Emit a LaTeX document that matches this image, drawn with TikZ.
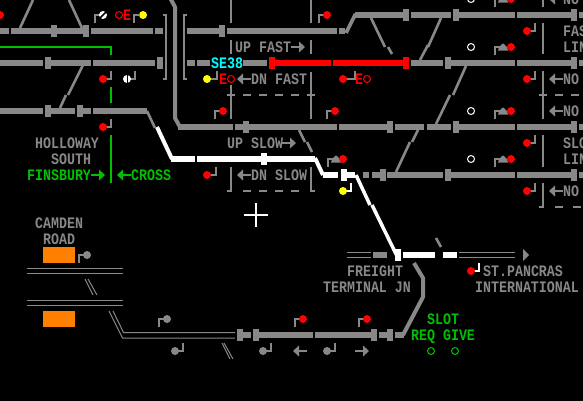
\documentclass[tikz,border=0pt]{standalone}
\usepackage{fontspec}
\newfontfamily\pxf[FakeStretch=0.83]{Liberation Mono}[BoldFont={Liberation Mono Bold}]
\definecolor{tg}{HTML}{888888}
\definecolor{tgreen}{HTML}{00C000}
\definecolor{tor}{HTML}{FF8000}
\definecolor{tcy}{HTML}{00FFFF}
\definecolor{tred}{HTML}{FF0000}
\definecolor{tyel}{HTML}{FFFF00}
\newcommand{\Seg}[3][tg]{\foreach \a/\b in {#3}{\fill[#1] (\a,#2-3) rectangle (\b,#2+3);}}
\newcommand{\Blk}[3][tg]{\fill[#1] (#2,#3-6) rectangle (#2+6,#3+6);}
\newcommand{\Disc}[3][tred]{\fill[#1] (#2,#3) circle[radius=4];}
\newcommand{\ArR}[3][tg]{\fill[#1] (#2,#3-1) rectangle (#2+9,#3+1);\fill[#1] (#2+8,#3-5.5)--(#2+14,#3)--(#2+8,#3+5.5)--cycle;}
\newcommand{\ArL}[3][tg]{\fill[#1] (#2+5,#3-1) rectangle (#2+14,#3+1);\fill[#1] (#2+6,#3-5.5)--(#2,#3)--(#2+6,#3+5.5)--cycle;}
\newcommand{\Shunt}[2]{\fill[tg] (#1-1,#2+8) rectangle (#1+1,#2-1);\fill[tg] (#1-1,#2-1) rectangle (#1+5,#2+1);\fill[tg] (#1+3,#2+3.7)--(#1+4,#2)--(#1+8,#2-3.7)--(#1+12,#2)--(#1+13,#2+3.7)--cycle;}
\begin{document}
\begin{tikzpicture}[x=1pt,y=-1pt,
  thinl/.style={line width=2pt,line cap=butt,line join=miter},
  dia/.style={line width=2.6pt,tg},
  dbl/.style={line width=1pt,tg},
  tx/.style={anchor=base west,inner sep=0pt,font=\pxf\fontsize{16}{16}\selectfont\bfseries,text=tg},
  txg/.style={tx,text=tgreen}]
\clip (0,0) rectangle (583,401);
\fill[black] (0,0) rectangle (583,401);
% gray tracks
\Seg{31}{0/9,11/83,91/153,155/163,187/219,227/337,339/345}
\Seg{15}{355/403,411/451,459/515,517/573,579/583}
\Seg{63}{0/43,51/91,93/155,187/195,197/210,243/267}
\Seg{63}{411/443,451/515,517/573,579/583}
\Seg{111}{0/43,51/75,83/91,93/147}
\Seg{127}{178/233,235/243,249/337,339/387,395/424,427/451,459/515,517/573,579/583}
\Seg{175}{363/369,372/380,387/443,451/515,517/573,579/583}
\Seg{335}{243/251,259/313,315/371,379/387,395/404}
\fill[tg] (373,252) rectangle (387,258);
\foreach \x/\y in {51/31,83/31,219/31,403/15,453/15,571/15,45/63,445/63,571/63,45/111,77/111,243/127,387/127,453/127,571/127,380/175,445/175,571/175,237/335,253/335,371/335,387/335}{\Blk{\x}{\y}}
\fill[tg] (157,57) rectangle (163,69);
% red
\Seg[tred]{63}{275/331,333/403}
\Blk[tred]{269}{63}\Blk[tred]{403}{63}
% white
\fill[white] (261,153) rectangle (267,165);
\fill[white] (341,169) rectangle (347,181);
\fill[white] (395,249) rectangle (401,261);
\Seg[white]{159}{171/195,197/261,267/315}
\Seg[white]{175}{323/338,347/355}
\Seg[white]{255}{403/435,443/457}
\draw[white,line width=4pt] (157,127)--(172,159);
\draw[white,line width=4pt] (315,158)--(323,175);
\draw[white,line width=3.5pt] (356,175)--(370,205) (372,205)--(397,256);
% diagonals
\draw[dia] (33,0)--(20,28) (69,0)--(82,28);
\draw[dia] (83,65)--(68,95) (66,95)--(60,108);
\draw[dia] (147,111)--(155,128);
\draw[dia] (371,18)--(385,47) (388,47)--(392,54);
\draw[dia] (441,18)--(428,47) (428,45)--(420,60);
\draw[dia] (466,66)--(453,95) (450,95)--(436,124);
\draw[dia] (418,130)--(412,142) (410,142)--(396,172);
\draw[dia] (299,130)--(305,142) (307,142)--(312,152);
\draw[dia] (436,238)--(441,247);
\draw[line width=3.6pt,tg] (346,33)--(355.5,14);
\draw[line width=4pt,tg,line join=round] (403,335)--(423,297)--(423,278)--(414,263);
\draw[line width=4pt,tg,line join=round] (170.7,-1)--(175,7)--(175,118)--(180,127)--(185,127);
% brackets
\draw[thinl,tg] (163,15)--(166,15)--(166,79)--(163,79);
\draw[thinl,tg] (187,15)--(184,15)--(184,79)--(187,79);
% double lines
\draw[dbl] (347,252)--(371,252) (347,257)--(371,257) (459,252)--(515,252) (459,257)--(515,257);
\draw[dbl] (27,268.5)--(123,268.5) (27,273.5)--(123,273.5) (27,300.5)--(123,300.5) (27,305.5)--(123,305.5);
\draw[dbl] (85,279)--(93,295) (88,279)--(97,295) (222,343)--(230,359) (224,343)--(233,359);
\draw[dbl] (109,311)--(122.5,338)--(235,338) (113,311)--(123.5,332.5)--(235,332.5);
\fill[tg] (523,249)--(529,255)--(523,261)--cycle;
% green lines
\draw[thinl,tgreen] (0,47)--(111,47)--(111,55) (111,87)--(111,103) (111,135)--(111,183);
% vertical rules
\draw[thinl,tg] (231,0)--(231,23) (231,40)--(231,54) (231,85)--(231,119);
\draw[thinl,tg] (311,0)--(311,23) (311,40)--(311,54) (311,72)--(311,119);
\draw[thinl,tg] (227,95)--(235,95) (243,95)--(251,95) (259,95)--(267,95) (275,95)--(283,95) (291,95)--(299,95) (307,95)--(315,95);
\draw[thinl,tg] (227,191)--(231,191)--(231,167) (311,167)--(311,191)--(315,191);
\draw[thinl,tg] (243,191)--(251,191) (259,191)--(267,191) (275,191)--(283,191) (291,191)--(299,191);
\draw[thinl,tg] (543,0)--(543,7) (543,23)--(543,54) (543,71)--(543,119) (539,95)--(547,95) (555,95)--(563,95) (571,95)--(579,95);
\draw[thinl,tg] (543,135)--(543,167) (539,207)--(543,207)--(543,183) (555,207)--(563,207) (573,207)--(581,207);
% signals
\Disc{0}{15}
\fill[tyel] (143,15) circle[radius=4];
\draw[thinl,tg] (95,23)--(95,15)--(100,15);
\draw[thinl,tg] (134,23)--(134,15)--(140,15);
\fill[white] (103,15) circle[radius=4];
\draw[black,line width=1.5pt] (100,18)--(106,12);
\draw[thinl,tg] (111,71)--(111,79)--(106,79); \Disc{103}{79}
\draw[thinl,tg] (135,71)--(135,79)--(130,79);
\fill[white] (127,79) circle[radius=4];
\draw[black,line width=1pt] (127,74)--(127,84);
\draw[thinl,tg] (111,119)--(111,127)--(106,127); \Disc{103}{127}
\draw[thinl,tg] (319,23)--(319,15)--(325,15); \Disc{327}{15}
\draw[thinl,tg] (215,119)--(215,111)--(221,111); \Disc{223}{111}
\draw[thinl,tg] (327,119)--(327,111)--(333,111); \Disc{335}{111}
\draw[thinl,tg] (217,71)--(217,79)--(210,79); \fill[tyel] (207,79) circle[radius=4];
\draw[thinl,tg] (355,71)--(355,79)--(346,79); \Disc{343}{79}
\draw[thinl,tg] (216,167)--(216,175)--(210,175); \Disc{207}{175}
\draw[thinl,white] (351,183)--(351,191)--(346,191); \fill[tyel] (343,191) circle[radius=4];
\draw[thinl,tg] (535,23)--(535,31)--(530,31); \Disc{527}{31}
\draw[thinl,tg] (535,71)--(535,79)--(530,79); \Disc{527}{79}
\draw[thinl,tg] (535,135)--(535,143)--(530,143); \Disc{527}{143}
\draw[thinl,tg] (535,183)--(535,191)--(530,191); \Disc{527}{191}
\Shunt{495}{47}\Disc{511}{47}
\Shunt{495}{111}\Disc{511}{111}
\Shunt{495}{159}\Disc{511}{159}
\Shunt{495}{-1}\Disc{511}{-1}
\Shunt{328}{159}\Disc{343}{159}
\foreach \y in {47,111,159,-1}{\draw[white,line width=1pt] (471,\y) circle[radius=3.5];}
\draw[thinl,tg] (79,263)--(79,255)--(85,255); \fill[tg] (87,255) circle[radius=4];
\draw[thinl,tg] (159,327)--(159,319)--(165,319); \fill[tg] (167,319) circle[radius=4];
\draw[thinl,tg] (183,343)--(183,351)--(177,351); \fill[tg] (175,351) circle[radius=4];
\draw[thinl,tg] (295,327)--(295,319)--(301,319); \Disc{303}{319}
\draw[thinl,tg] (359,327)--(359,319)--(365,319); \Disc{367}{319}
\draw[thinl,tg] (271,343)--(271,351)--(265,351); \fill[tg] (263,351) circle[radius=4];
\draw[thinl,tg] (335,343)--(335,351)--(329,351); \fill[tg] (327,351) circle[radius=4];
\draw[thinl,white] (479,263)--(479,271)--(474,271); \Disc{471}{271}
% orange
\fill[tor] (43,247) rectangle (75,263);
\fill[tor] (43,311) rectangle (75,327);
% cross
\draw[white,line width=1.5pt] (244,215)--(268,215) (256,203)--(256,227);
% arrows
\ArR{291}{47}\ArL{237}{79}\ArR{282}{143}\ArL{237}{175}
\ArL{549}{-1}\ArL{549}{79}\ArL{549}{111}\ArL{549}{191}
\ArR[tgreen]{91}{175}\ArL[tgreen]{117}{175}
\ArL{293}{351}\ArR{355}{351}
% red E O
\node[tx,text=tred] (oe) at (123,20.5) {E};
\draw[tred,line width=1pt] (119,15) circle[radius=3.5];
\node[tx,text=tred] (e1) at (219,84.5) {E};
\draw[tred,line width=1pt] (231,79) circle[radius=3.5];
\node[tx,text=tred] (e2) at (355,84.5) {E};
\draw[tred,line width=1pt] (367,79) circle[radius=3.5];
% labels
\node[tx] (t1) at (235,52.5) {UP FAST};
\node[tx] (t2) at (251,84.5) {DN FAST};
\node[tx] (t3) at (227,148.5) {UP SLOW};
\node[tx] (t4) at (251,180.5) {DN SLOW};
\node[tx,text=tcy] (t5) at (211,68.5) {SE38};
\node[tx] (t6) at (563,36.5) {FAS};
\node[tx] (t7) at (563,52.5) {LIN};
\node[tx] (t8) at (563,148.5) {SLO};
\node[tx] (t9) at (563,164.5) {LIN};
\node[tx] (t10) at (563,4.5) {NO};
\node[tx] (t11) at (563,84.5) {NO};
\node[tx] (t12) at (563,116.5) {NO};
\node[tx] (t13) at (563,196.5) {NO};
\node[tx] (t14) at (35,148.5) {HOLLOWAY};
\node[tx] (t15) at (51,164.5) {SOUTH};
\node[txg] (t16) at (27,180.5) {FINSBURY};
\node[txg] (t17) at (131,180.5) {CROSS};
\node[tx] (t18) at (35,228.5) {CAMDEN};
\node[tx] (t19) at (43,244.5) {ROAD};
\node[tx] (t20) at (347,276.5) {FREIGHT};
\node[tx] (t21) at (323,292.5) {TERMINAL JN};
\node[tx] (t22) at (483,276.5) {ST.PANCRAS};
\node[tx] (t23) at (475,292.5) {INTERNATIONAL};
\node[txg] (t24) at (427,324.5) {SLOT};
\node[txg] (t25) at (411,340.5) {REQ GIVE};
\node[draw=tgreen,line width=1pt,circle,minimum size=7pt,inner sep=0pt] (c1) at (431,351) {};
\node[draw=tgreen,line width=1pt,circle,minimum size=7pt,inner sep=0pt] (c2) at (455,351) {};
\end{tikzpicture}
\end{document}
